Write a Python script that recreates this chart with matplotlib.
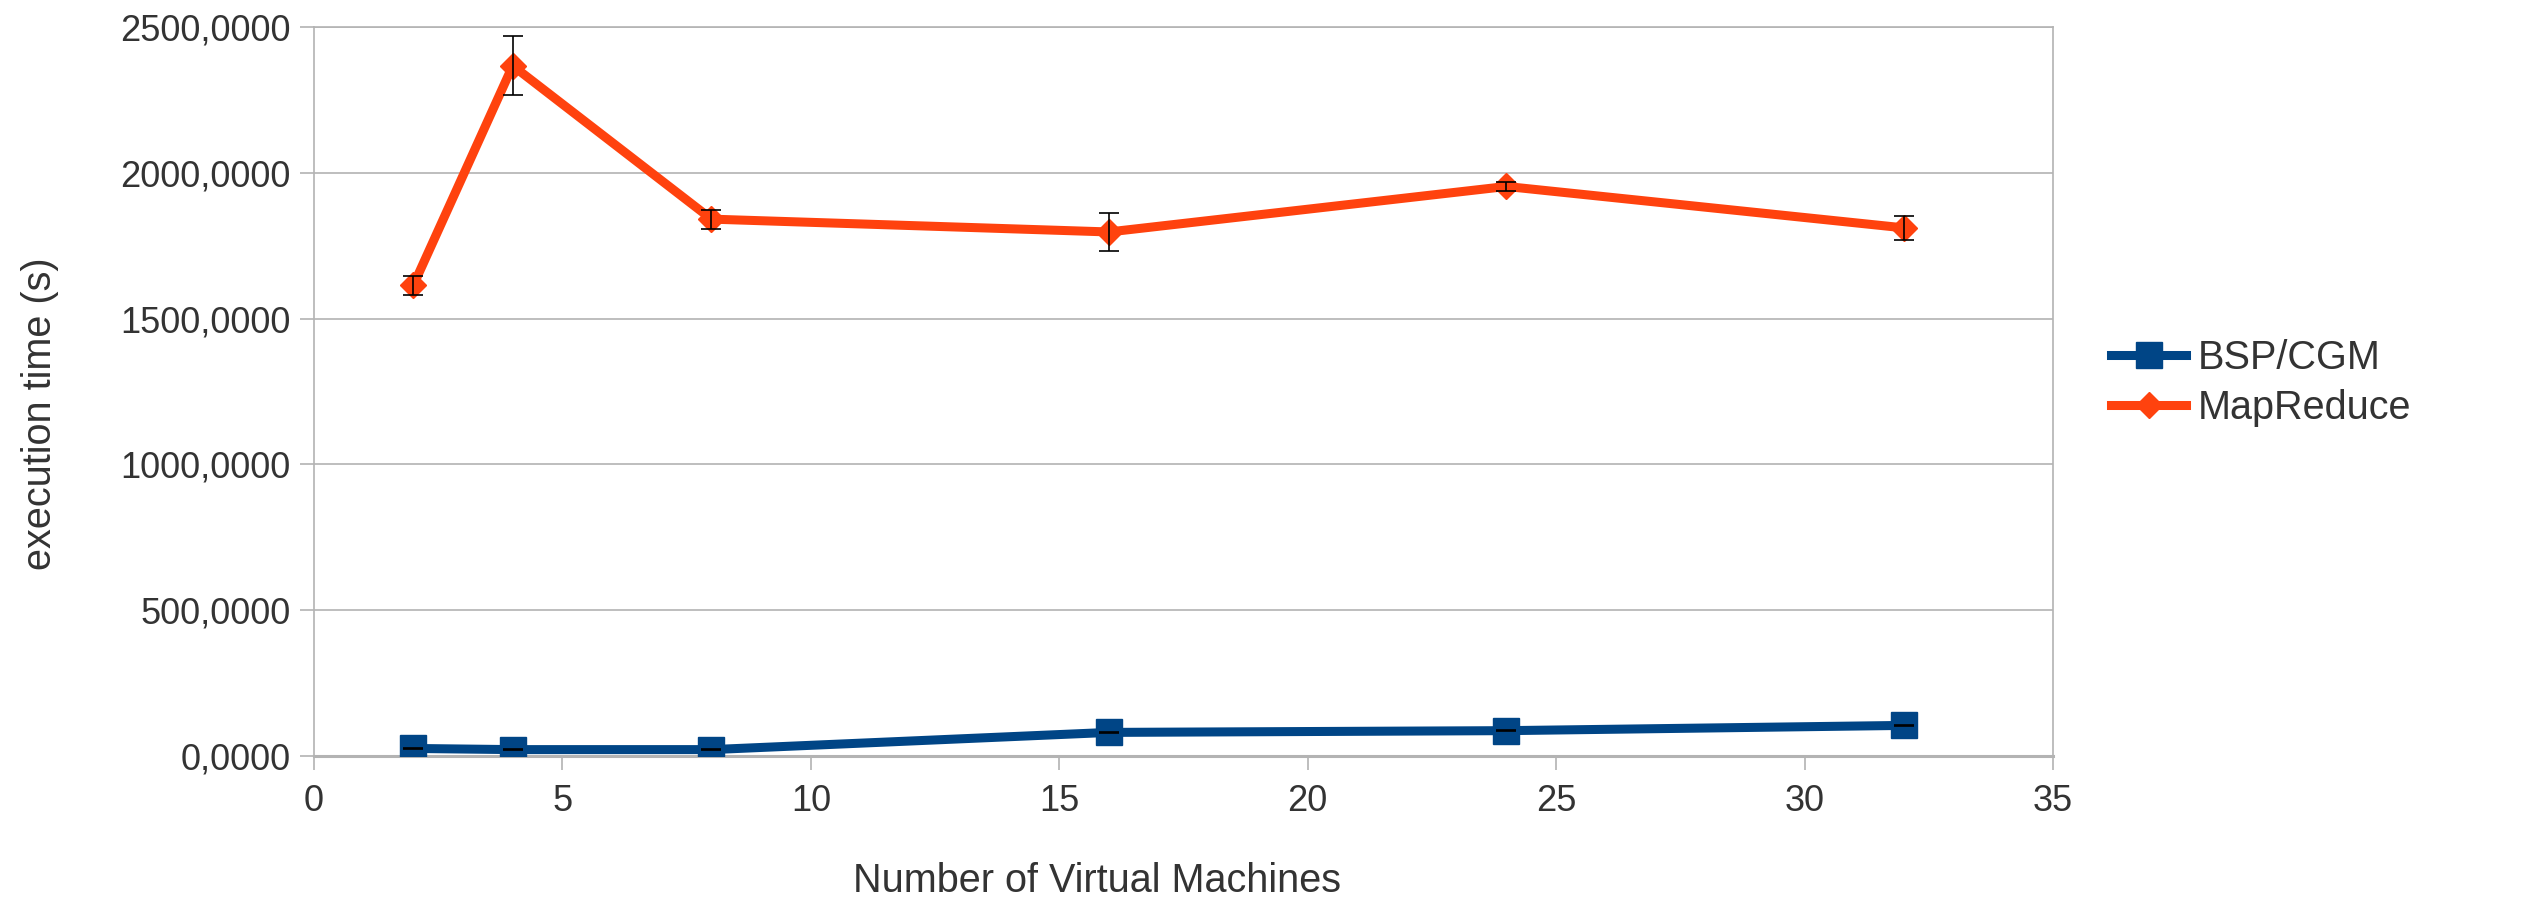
import matplotlib
matplotlib.use("Agg")
import matplotlib.pyplot as plt
from matplotlib.ticker import FuncFormatter, MultipleLocator

plt.rcParams['font.family'] = ['Liberation Sans', 'DejaVu Sans']

# Execution times (s) per number of virtual machines
vms = [2, 4, 8, 16, 24, 32]
bsp_cgm = [26, 22, 22, 81, 87, 105]
bsp_cgm_err = [1, 1, 1, 1, 1, 1]
mapreduce = [1614, 2367, 1841, 1797, 1953, 1811]
mapreduce_err = [32, 102, 33, 65, 15, 42]

BLUE = "#004586"
ORANGE = "#ff420e"
GRID = "#b3b3b3"
TEXT = "#333333"

fig = plt.figure(figsize=(25.28, 8.98), dpi=100)
ax = fig.add_axes([0.1242, 0.1581, 0.6879, 0.8119])

# Series lines with markers
ax.plot(vms, bsp_cgm, color=BLUE, lw=6.5, marker="s", ms=19,
        label="BSP/CGM", zorder=3)
ax.plot(vms, mapreduce, color=ORANGE, lw=6.5, marker="D", ms=13.5,
        label="MapReduce", zorder=3)

# Error bars on top of the markers
ax.errorbar(vms, bsp_cgm, yerr=bsp_cgm_err, fmt="none", ecolor="black",
            elinewidth=1.2, capsize=7, capthick=1.2, zorder=4)
ax.errorbar(vms, mapreduce, yerr=mapreduce_err, fmt="none", ecolor="black",
            elinewidth=1.2, capsize=7, capthick=1.2, zorder=4)

ax.set_xlim(0, 35)
ax.set_ylim(0, 2500)
ax.xaxis.set_major_locator(MultipleLocator(5))
ax.yaxis.set_major_locator(MultipleLocator(500))
ax.yaxis.set_major_formatter(FuncFormatter(lambda v, p: f"{v:.4f}".replace(".", ",")))

ax.grid(axis="y", color=GRID, lw=1.2, zorder=0)
ax.set_axisbelow(True)
for side in ["left", "right", "top"]:
    ax.spines[side].set_color(GRID)
    ax.spines[side].set_linewidth(1.2)
ax.spines["bottom"].set_color(GRID)
ax.spines["bottom"].set_linewidth(2.2)

ax.tick_params(axis="both", colors=GRID, length=10, width=1.2,
               labelcolor=TEXT, labelsize=26)
ax.tick_params(axis="x", pad=10)
ax.tick_params(axis="y", pad=7)

ax.set_xlabel("Number of Virtual Machines", fontsize=28.5, color=TEXT, labelpad=31)
ax.set_ylabel("execution time (s)", fontsize=28.5, color=TEXT, labelpad=44)
# axis titles sit a little off the middle of the plot area
ax.xaxis.label.set_x(0.45)
ax.yaxis.label.set_y(0.469)

fig.legend(loc="center left", bbox_to_anchor=(0.821, 0.5735), frameon=False,
           fontsize=28.5, handlelength=1.9, handletextpad=0.3,
           labelspacing=0.3, labelcolor=TEXT)

fig.savefig("out.png", dpi=100)
